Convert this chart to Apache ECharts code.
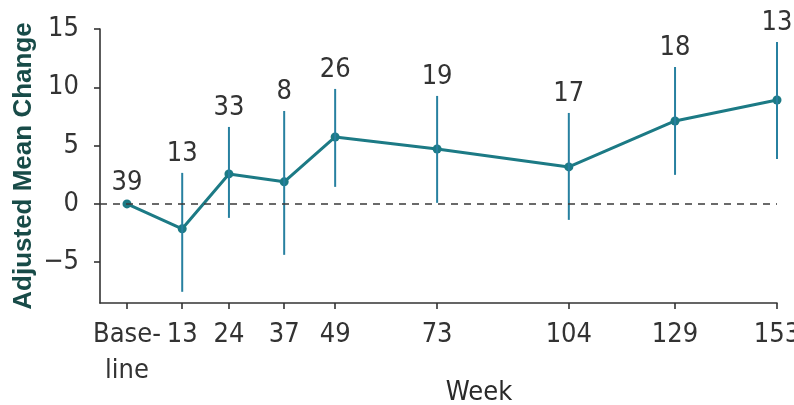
<!DOCTYPE html>
<html>
<head>
<meta charset="utf-8">
<script src="https://cdn.jsdelivr.net/npm/echarts@6/dist/echarts.min.js"></script>
<style>
  html, body { margin: 0; padding: 0; background: #fff; }
  #chart { width: 794px; height: 405px; }
</style>
</head>
<body>
<div id="chart"></div>
<script>
// Study weeks at which the outcome was assessed
const weeks = [0, 13, 24, 37, 49, 73, 104, 129, 153];
// Adjusted mean change from baseline
const meanChange = [0, -2.14, 2.57, 1.89, 5.74, 4.71, 3.17, 7.11, 8.91];
// Lower and upper confidence limits
const lowerCI = [0, -7.54, -1.2, -4.37, 1.46, 0.09, -1.37, 2.49, 3.86];
const upperCI = [0, 2.66, 6.6, 7.97, 9.86, 9.26, 7.8, 11.74, 13.89];
// Number of patients contributing at each week
const nPatients = [39, 13, 33, 8, 26, 19, 17, 18, 13];
// Y axis tick values
const yTicks = [-5, 0, 5, 10, 15];

const lineColor = '#1c7a85';
const barColor = '#2780a0';
const textColor = '#333333';
const tickFont = '"DejaVu Sans Condensed", "DejaVu Sans", sans-serif';

const errorData = weeks.map((w, i) => [w, lowerCI[i], upperCI[i], nPatients[i]]);

const chart = echarts.init(document.getElementById('chart'), null, { renderer: 'canvas' });

chart.setOption({
  backgroundColor: '#ffffff',
  animation: false,
  grid: { left: 100, right: 17, top: 29, bottom: 102, containLabel: false, outerBoundsMode: 'none' },
  xAxis: {
    type: 'value',
    min: -6.35,
    max: 153,
    splitLine: { show: false },
    axisLine: { show: true, onZero: false, lineStyle: { color: textColor, width: 1.6 } },
    axisTick: { show: true, length: 6, lineStyle: { color: textColor, width: 1.6 }, customValues: weeks },
    axisLabel: {
      customValues: weeks,
      showMaxLabel: true,
      showMinLabel: true,
      hideOverlap: false,
      margin: 14,
      color: textColor,
      fontFamily: tickFont,
      fontSize: 27,
      lineHeight: 36,
      formatter: v => (v === 0 ? 'Base-\nline' : String(v))
    }
  },
  yAxis: {
    type: 'value',
    min: -8.5,
    max: 15,
    splitLine: { show: false },
    axisLine: { show: true, onZero: false, lineStyle: { color: textColor, width: 1.6 } },
    axisTick: { show: true, length: 6, lineStyle: { color: textColor, width: 1.6 }, customValues: yTicks },
    axisLabel: {
      customValues: yTicks,
      margin: 21,
      color: textColor,
      fontFamily: tickFont,
      fontSize: 27,
      formatter: v => (v < 0 ? '\u2212' + Math.abs(v) : String(v))
    },
    name: 'Adjusted Mean Change',
    nameLocation: 'middle',
    nameGap: 63,
    nameMoveOverlap: false,
    nameTextStyle: {
      color: '#184b48',
      fontFamily: '"Liberation Sans", Arial, sans-serif',
      fontWeight: 'bold',
      fontSize: 26
    }
  },
  graphic: [{
    type: 'text',
    x: 479,
    y: 393,
    style: {
      text: 'Week',
      fill: '#2a2a2a',
      font: '27px "DejaVu Sans Condensed", "DejaVu Sans", sans-serif',
      textAlign: 'center',
      textVerticalAlign: 'middle'
    }
  }],
  series: [
    {
      // dashed reference line at zero
      type: 'line',
      data: [],
      markLine: {
        silent: true,
        symbol: ['none', 'none'],
        label: { show: false },
        lineStyle: { color: '#3a3a3a', type: [7, 6], width: 1.6 },
        data: [{ yAxis: 0 }]
      }
    },
    {
      type: 'line',
      data: weeks.map((w, i) => [w, meanChange[i]]),
      symbol: 'circle',
      symbolSize: 9,
      lineStyle: { color: lineColor, width: 3 },
      itemStyle: { color: lineColor },
      z: 3
    },
    {
      // confidence interval bars with patient counts above
      type: 'custom',
      data: errorData,
      z: 4,
      renderItem: function (params, api) {
        const x = api.value(0);
        const lo = api.coord([x, api.value(1)]);
        const hi = api.coord([x, api.value(2)]);
        const children = [];
        if (api.value(1) !== api.value(2)) {
          children.push({
            type: 'line',
            shape: { x1: lo[0], y1: lo[1], x2: hi[0], y2: hi[1] },
            style: { stroke: barColor, lineWidth: 2 }
          });
        }
        children.push({
          type: 'text',
          x: hi[0],
          y: hi[1] - (api.value(1) !== api.value(2) ? 19 : 21),
          style: {
            text: String(api.value(3)),
            fill: textColor,
            font: '27px "DejaVu Sans Condensed", "DejaVu Sans", sans-serif',
            textAlign: 'center',
            textVerticalAlign: 'middle'
          }
        });
        return { type: 'group', children: children };
      }
    }
  ]
});
</script>
</body>
</html>
